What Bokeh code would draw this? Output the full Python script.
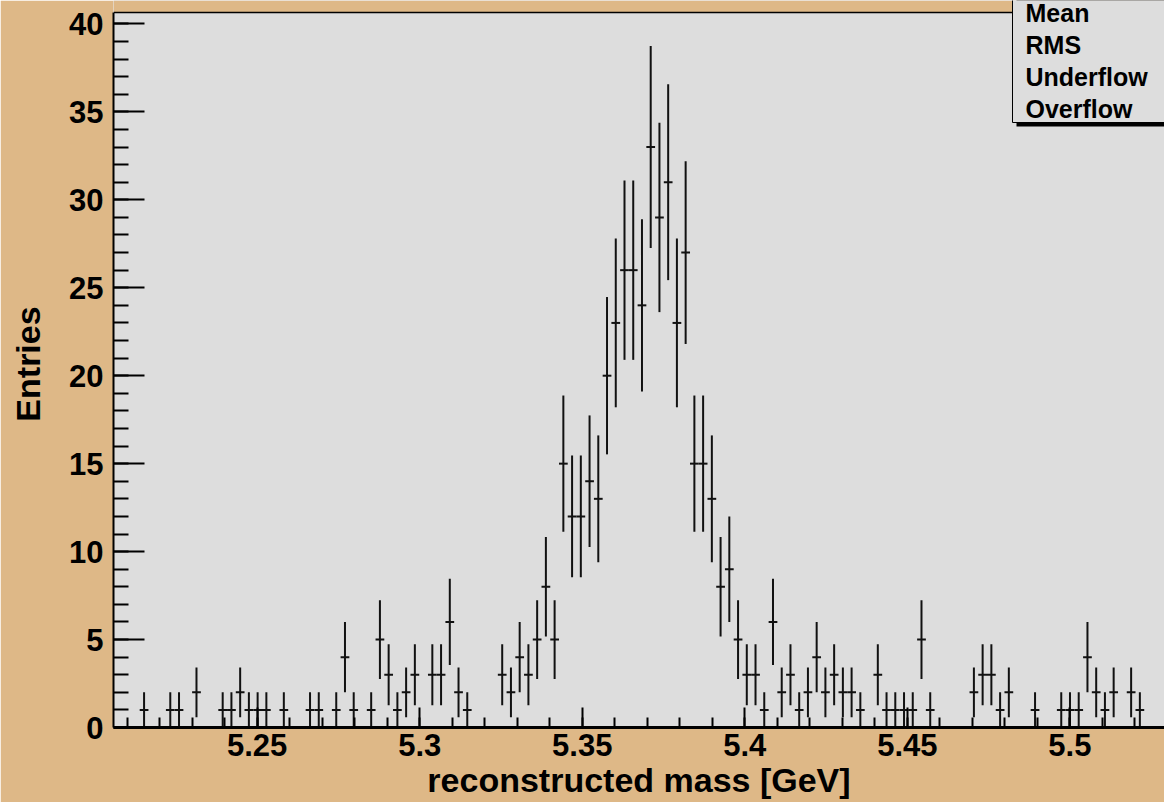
import numpy as np
from bokeh.plotting import figure
from bokeh.models import BoxAnnotation, ColumnDataSource, FixedTicker, Label, Span
from bokeh.embed import file_html
from bokeh.resources import INLINE

# Histogram binning of the reconstructed B mass (GeV)
bin_low = 5.2058
bin_width = 0.002687
x_view_high = 5.5291

# Entries per bin, left to right
counts = [
    0, 0, 0, 1, 0, 0, 1, 1, 0, 2,
    0, 0, 1, 1, 2, 1, 1, 1, 0, 1,
    0, 0, 1, 1, 0, 1, 4, 1, 0, 1,
    5, 3, 1, 2, 3, 0, 3, 3, 6, 2,
    1, 0, 0, 0, 3, 2, 4, 3, 5, 8,
    5, 15, 12, 12, 14, 13, 20, 23, 26, 26,
    24, 33, 29, 31, 23, 27, 15, 15, 13, 8,
    9, 5, 3, 3, 1, 6, 2, 3, 1, 2,
    4, 2, 3, 2, 2, 1, 0, 3, 1, 1,
    1, 1, 5, 1, 0, 0, 0, 0, 2, 3,
    3, 1, 2, 0, 0, 1, 0, 0, 1, 1,
    1, 4, 2, 1, 2, 0, 2, 1, 0, 0,
]

x_major_ticks = [5.25, 5.30, 5.35, 5.40, 5.45, 5.50]
x_major_labels = ["5.25", "5.3", "5.35", "5.4", "5.45", "5.5"]
x_minor_ticks = [round(5.21 + 0.01 * i, 2) for i in range(32)]
y_major_ticks = [0, 5, 10, 15, 20, 25, 30, 35, 40]
y_minor_ticks = list(range(0, 41))
y_frame_top = 40.65     # top edge of the drawn histogram frame
y_view_high = 41.33     # canvas top, leaves room for the stats box

stats_labels = ["Mean", "RMS", "Underflow", "Overflow"]

FONT = "Liberation Sans"
INK = "#111111"
PANEL = "#DDDDDD"
CANVAS = "#DEB887"

n = np.array(counts, dtype=float)
centers = bin_low + (np.arange(len(n)) + 0.5) * bin_width
filled = n > 0
err = np.sqrt(n)

src = ColumnDataSource(dict(
    x=centers[filled],
    y=n[filled],
    lo=(n - err)[filled],
    hi=(n + err)[filled],
    xl=(centers - bin_width / 2)[filled],
    xr=(centers + bin_width / 2)[filled],
))

FRAME_H = 727  # plot area height in px (802 - bottom 75)

p = figure(
    width=1164, height=802,
    x_range=(bin_low, x_view_high), y_range=(0, y_view_high),
    output_backend="svg", toolbar_location=None,
    min_border_left=113, min_border_right=0,
    min_border_top=0, min_border_bottom=75,
    background_fill_color=PANEL, border_fill_color=CANVAS,
    outline_line_color=None,
)
p.grid.visible = False

# canvas colour above the histogram frame, and the frame's top edge
p.add_layout(BoxAnnotation(bottom=y_frame_top, fill_color=CANVAS,
                           fill_alpha=1.0, line_color=None))
p.add_layout(Span(location=y_frame_top, dimension="width",
                  line_color="black", line_width=1.5))

# error bars: vertical sqrt(N) bar plus a horizontal bar across the bin
p.segment(x0="x", y0="lo", x1="x", y1="hi", source=src,
          line_color=INK, line_width=2)
p.segment(x0="xl", y0="y", x1="xr", y1="y", source=src,
          line_color=INK, line_width=2)

xa = p.xaxis[0]
xa.ticker = FixedTicker(ticks=x_major_ticks, minor_ticks=x_minor_ticks)
xa.major_label_overrides = dict(zip(x_major_ticks, x_major_labels))
xa.major_tick_in = 20
xa.major_tick_out = 0
xa.minor_tick_in = 10
xa.minor_tick_out = 0
xa.axis_line_width = 3
xa.major_tick_line_width = 2
xa.minor_tick_line_width = 2
xa.major_label_standoff = 6
xa.axis_label = "reconstructed mass [GeV]"
xa.axis_label_standoff = 2

ya = p.yaxis[0]
ya.bounds = (0, y_frame_top)
ya.ticker = FixedTicker(ticks=y_major_ticks, minor_ticks=y_minor_ticks)
ya.major_tick_in = 31
ya.major_tick_out = 0
ya.minor_tick_in = 15
ya.minor_tick_out = 0
ya.axis_line_width = 2
ya.major_tick_line_width = 2
ya.minor_tick_line_width = 2
ya.major_label_standoff = 10
ya.axis_label = "Entries"
ya.axis_label_standoff = 19

for ax in (xa, ya):
    ax.axis_line_color = "black"
    ax.major_tick_line_color = "black"
    ax.minor_tick_line_color = "black"
    ax.major_label_text_font = FONT
    ax.major_label_text_font_style = "bold"
    ax.major_label_text_font_size = "31px"
    ax.major_label_text_color = "black"
    ax.axis_label_text_font = FONT
    ax.axis_label_text_font_style = "bold"
    ax.axis_label_text_font_size = "34px"
    ax.axis_label_text_color = "black"

# statistics box in the upper right corner (screen px, frame-relative),
# drawn as a drop shadow, the box itself and one label per row
box_left, box_bottom = 899, 605
box_right, box_top = 1120, FRAME_H + 40
p.add_layout(BoxAnnotation(
    left=box_left + 4, right=box_right + 4,
    bottom=box_bottom - 4, top=box_top,
    left_units="screen", right_units="screen",
    bottom_units="screen", top_units="screen",
    fill_color="black", fill_alpha=1.0, line_color=None,
))
p.add_layout(BoxAnnotation(
    left=box_left, right=box_right, bottom=box_bottom, top=box_top,
    left_units="screen", right_units="screen",
    bottom_units="screen", top_units="screen",
    fill_color=PANEL, fill_alpha=1.0,
    line_color="black", line_width=1, line_alpha=1.0,
))

row_px = [12.5, 44.5, 76.5, 108.5]  # row centres, px from the canvas top
for name, py in zip(stats_labels, row_px):
    p.add_layout(Label(
        x=912, y=FRAME_H - py, x_units="screen", y_units="screen",
        text=name, text_font=FONT, text_font_style="bold",
        text_font_size="25px", text_color="black",
        text_align="left", text_baseline="middle",
    ))

open("out.html", "w").write(file_html(p, INLINE))
